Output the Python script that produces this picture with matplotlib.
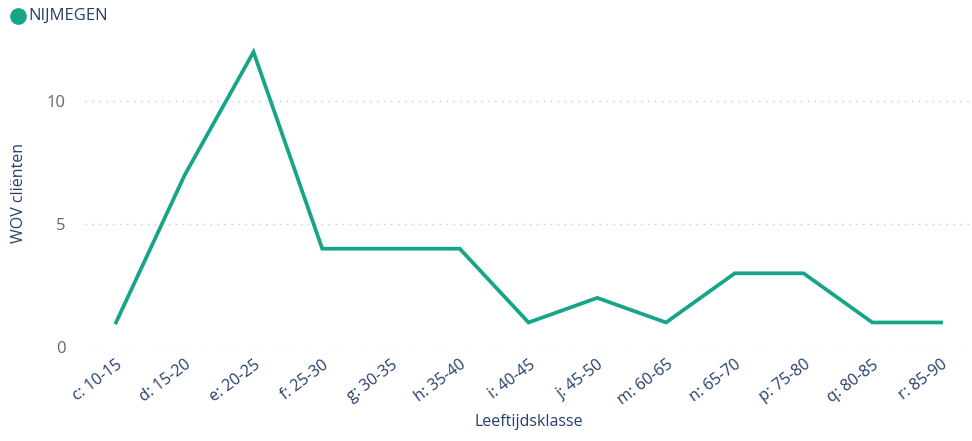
import matplotlib
matplotlib.use("Agg")
from matplotlib import pyplot as plt

categories = ["c: 10-15", "d: 15-20", "e: 20-25", "f: 25-30", "g: 30-35", "h: 35-40",
              "i: 40-45", "j: 45-50", "m: 60-65", "n: 65-70", "p: 75-80", "q: 80-85", "r: 85-90"]
clients = [1, 7, 12, 4, 4, 4, 1, 2, 1, 3, 3, 1, 1]
y_ticks = [0, 5, 10]
series_name = "NIJMEGEN"

teal = "#17a58a"
navy = "#243f6b"
plt.rcParams["font.family"] = ["Open Sans", "DejaVu Sans"]

fig = plt.figure(figsize=(9.72, 4.41), dpi=100)
ax = fig.add_axes([0.0875, 0.213, 0.9125, 0.697])

x = range(len(categories))
ax.plot(x, clients, color=teal, linewidth=2.7, solid_joinstyle="miter")

ax.set_xlim(-0.45, len(categories) - 0.55)
ax.set_ylim(0, 12.5)
ax.set_yticks(y_ticks)
ax.set_xticks(list(x))
ax.set_xticklabels(categories, rotation=37, ha="right", rotation_mode="anchor",
                   color=navy, fontsize=11.5)
ax.tick_params(axis="y", colors="#666666", labelsize=12, length=0, pad=14)
ax.tick_params(axis="x", length=0, pad=7)
ax.grid(axis="y", color="#c8c8c8", linestyle=(0, (1, 4)), linewidth=1)
for s in ax.spines.values():
    s.set_visible(False)

ax.set_xlabel("Leeftijdsklasse", color=navy, fontsize=11.5, labelpad=4)
ax.set_ylabel("WOV cliënten", color=navy, fontsize=11.5, labelpad=14)

# legend
ax.plot([0.0185], [0.963], marker="o", markersize=11, color=teal,
        transform=fig.transFigure, clip_on=False)
fig.text(0.029, 0.963, series_name, color=navy, fontsize=12, ha="left", va="center")

fig.savefig("out.png", dpi=100)
